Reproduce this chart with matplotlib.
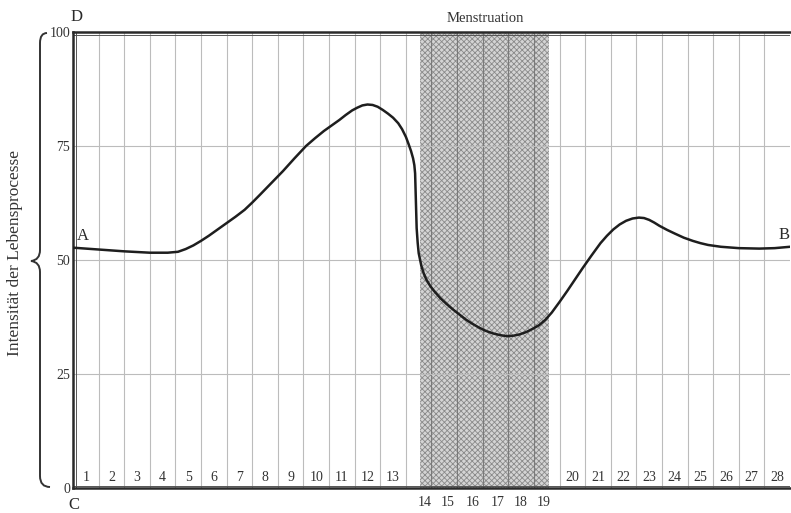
import numpy as np
import matplotlib
matplotlib.use("Agg")
import matplotlib.pyplot as plt
from matplotlib.path import Path
from matplotlib.patches import PathPatch

plt.rcParams["font.family"] = ["Liberation Serif", "DejaVu Serif"]
plt.rcParams["hatch.linewidth"] = 0.6

# Tageslauf der Intensität (Tage 0..28, Skala 0..100)
tage = [0.0, 1.0, 2.0, 3.0, 3.7, 4.1, 4.4, 4.7, 5.0, 5.3, 5.65, 6.0, 6.35,
        6.7, 7.0, 7.3, 7.75, 8.2, 8.65, 9.1, 9.45, 9.8, 10.1, 10.4, 10.65,
        10.9, 11.1, 11.3, 11.5, 11.7, 11.9, 12.1, 12.3, 12.5, 12.7, 12.85,
        13.0, 13.1, 13.2, 13.28, 13.33, 13.36, 13.38, 13.4, 13.42, 13.46,
        13.5, 13.6, 13.7, 13.8, 13.95, 14.1, 14.35, 14.6, 14.85, 15.1, 15.35,
        15.6, 15.85, 16.1, 16.4, 16.7, 16.95, 17.2, 17.45, 17.7, 17.95, 18.2,
        18.45, 18.7, 19.0, 19.3, 19.6, 19.9, 20.25, 20.6, 20.85, 21.1, 21.35,
        21.6, 21.85, 22.1, 22.3, 22.5, 22.7, 22.9, 23.2, 23.5, 23.85, 24.2,
        24.5, 24.8, 25.3, 26.0, 26.8, 27.4, 28.0]
intensitaet = [52.7, 52.3, 51.9, 51.6, 51.6, 51.8, 52.4, 53.2, 54.2, 55.3,
               56.7, 58.1, 59.5, 61.0, 62.6, 64.3, 66.9, 69.5, 72.3, 75.0,
               76.7, 78.3, 79.5, 80.7, 81.8, 82.8, 83.4, 83.9, 84.1, 84.0,
               83.6, 82.9, 82.1, 81.2, 80.0, 78.7, 77.0, 75.5, 73.9, 72.3,
               70.8, 69.0, 65.0, 61.0, 57.0, 53.8, 51.5, 48.8, 47.0, 45.7,
               44.3, 43.2, 41.6, 40.3, 39.1, 38.0, 36.9, 36.0, 35.2, 34.5,
               33.9, 33.5, 33.3, 33.4, 33.7, 34.2, 34.9, 35.7, 36.9, 38.5,
               40.8, 43.2, 45.7, 48.2, 51.0, 53.7, 55.3, 56.7, 57.8, 58.6,
               59.1, 59.3, 59.2, 58.8, 58.2, 57.5, 56.6, 55.8, 54.9, 54.2,
               53.7, 53.3, 52.9, 52.6, 52.5, 52.6, 52.9]

y_ticks = [0, 25, 50, 75, 100]
y_ticklabels = ["0", "25", "50", "75", "100"]
tage_innen = list(range(1, 14)) + list(range(20, 29))
tage_mens = [14, 15, 16, 17, 18, 19]
pos_mens = [13.75, 14.65, 15.6, 16.6, 17.5, 18.4]
mens_von, mens_bis = 13.55, 18.6

fig = plt.figure(figsize=(7.91, 5.13), dpi=100)
ax = fig.add_axes([73 / 791, 25 / 513, 717 / 791, 456 / 513])
ax.set_xlim(0, 28)
ax.set_ylim(0, 100)

# Menstruationsfeld schraffiert
ax.axvspan(mens_von, mens_bis, facecolor="#d4d4d4", edgecolor="#8a8a8a",
           hatch="xxxxxx", linewidth=0, zorder=0)

# Gitter
for k in range(1, 28):
    inside = mens_von < k < mens_bis
    ax.axvline(k, color="#7a7a7a" if inside else "#bcbcbc",
               lw=0.8, zorder=1)
for v in [25, 50, 75]:
    ax.axhline(v, color="#bcbcbc", lw=0.8, zorder=1)
ax.axhline(99.3, color="#555555", lw=0.7, zorder=1)
ax.axhline(0.5, color="#555555", lw=0.7, zorder=1)
ax.axvline(0.12, color="#555555", lw=0.7, zorder=1)

ax.plot(tage, intensitaet, color="#1e1e1e", lw=1.8, solid_joinstyle="round",
        solid_capstyle="round", zorder=3)

for s in ["left", "top", "bottom"]:
    ax.spines[s].set_linewidth(1.8)
    ax.spines[s].set_color("#2a2a2a")
ax.spines["right"].set_visible(False)

ax.set_xticks([])
ax.set_yticks(y_ticks)
ax.set_yticklabels(y_ticklabels, fontsize=10, color="#333333")
ax.tick_params(axis="y", length=0, pad=2)

for t in tage_innen:
    ax.text(t - 0.5, 2.4, str(t), ha="center", va="center", fontsize=10,
            color="#333333", zorder=4)
for t, p in zip(tage_mens, pos_mens):
    ax.text(p, -3.2, str(t), ha="center", va="center", fontsize=10,
            color="#333333", clip_on=False)

ax.text(16.1, 103.0, "Menstruation", ha="center", va="center",
        fontsize=10.5, color="#333333", clip_on=False)
ax.text(0.4, 55.3, "A", ha="center", va="center", fontsize=12,
        color="#2a2a2a")
ax.text(27.75, 55.5, "B", ha="center", va="center", fontsize=12,
        color="#2a2a2a", clip_on=False)
ax.text(0.12, 103.2, "D", ha="center", va="center", fontsize=12,
        color="#2a2a2a", clip_on=False)
ax.text(0.05, -3.8, "C", ha="center", va="center", fontsize=12,
        color="#2a2a2a", clip_on=False)

fig.text(15 / 791, 1 - 253 / 513, "Intensität der Lebensprocesse",
         rotation=90, ha="center", va="center", fontsize=12.5,
         color="#333333")

# geschweifte Klammer links
W, H = 791.0, 513.0
pts = [(47, 33), (40, 33), (40, 43), (40, 250), (40, 260), (31, 261),
       (40, 262), (40, 272), (40, 476), (40, 487), (50, 487)]
codes = [Path.MOVETO, Path.CURVE3, Path.CURVE3, Path.LINETO, Path.CURVE3,
         Path.CURVE3, Path.CURVE3, Path.CURVE3, Path.LINETO, Path.CURVE3,
         Path.CURVE3]
verts = [(x / W, 1 - y / H) for x, y in pts]
fig.patches.append(PathPatch(Path(verts, codes), transform=fig.transFigure,
                             fill=False, lw=1.4, edgecolor="#333333"))

fig.savefig("out.png", dpi=100, facecolor="white")
